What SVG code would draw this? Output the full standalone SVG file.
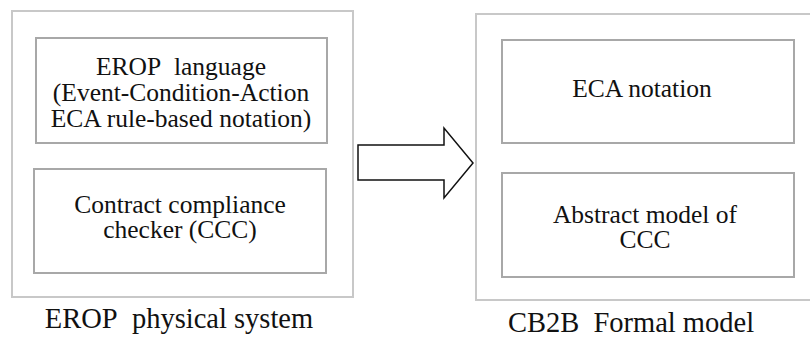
<svg xmlns="http://www.w3.org/2000/svg" width="810" height="338" viewBox="0 0 810 338">
<style>
.outer{fill:none;stroke:#c8c8c8;stroke-width:2}
.inner{fill:none;stroke:#a8a8a8;stroke-width:2}
.tx{font-family:Liberation Serif,Times New Roman,serif;fill:#111;text-anchor:middle}
.t{font-size:25.5px}
.lab{font-size:28.5px}
</style>
<rect width="810" height="338" fill="#fff"/>
<g id="erop-system">
<rect class="outer" x="12" y="11" width="341" height="286"/>
<text class="tx lab" x="179" y="328">EROP&#160; physical system</text>
</g>
<g id="erop-language">
<rect class="inner" x="36" y="38" width="291" height="105"/>
<text class="tx t" x="181" y="75">EROP&#160; language</text>
<text class="tx t" x="181" y="101">(Event-Condition-Action</text>
<text class="tx t" x="181" y="127">ECA rule-based notation)</text>
</g>
<g id="ccc">
<rect class="inner" x="34" y="169" width="292" height="104"/>
<text class="tx t" x="180" y="213">Contract compliance</text>
<text class="tx t" x="180" y="238">checker (CCC)</text>
</g>
<g id="cb2b-model">
<rect class="outer" x="476" y="14" width="340" height="286"/>
<text class="tx lab" x="631" y="332">CB2B&#160; Formal model</text>
</g>
<g id="eca-notation">
<rect class="inner" x="502" y="40" width="292" height="103"/>
<text class="tx t" x="642" y="97">ECA notation</text>
</g>
<g id="abstract-ccc">
<rect class="inner" x="502" y="173" width="292" height="104"/>
<text class="tx t" x="645" y="223">Abstract model of</text>
<text class="tx t" x="645" y="248">CCC</text>
</g>
<g id="connectors">
<polygon points="358,145 444,145 444,128 473,163 444,198 444,180 358,180" fill="#fff" stroke="#111" stroke-width="1.5" stroke-linejoin="miter"/>
</g>
</svg>
